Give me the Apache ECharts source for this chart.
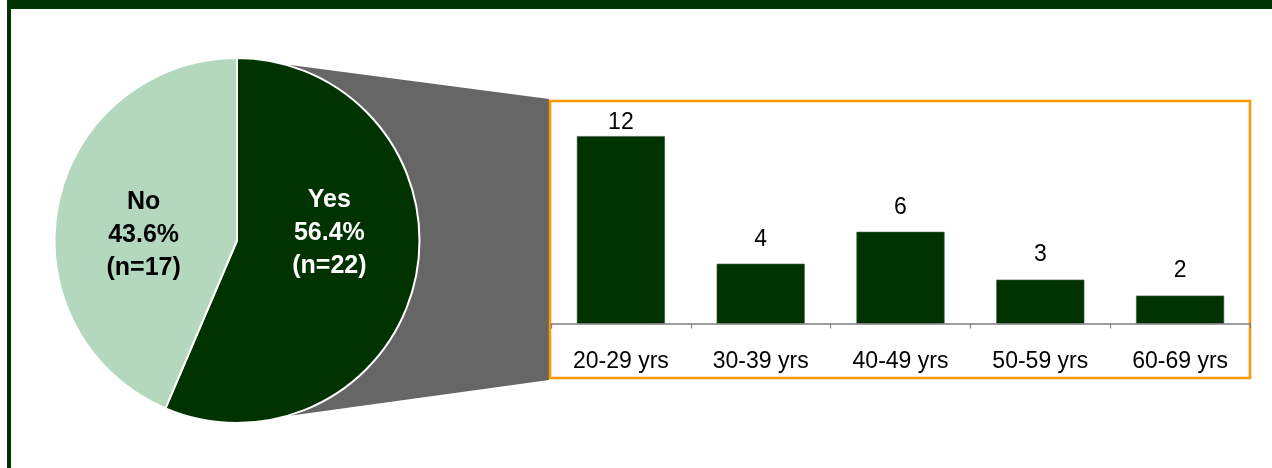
<!DOCTYPE html>
<html>
<head>
<meta charset="utf-8">
<script src="https://cdn.jsdelivr.net/npm/echarts@6/dist/echarts.min.js"></script>
<style>
html,body{margin:0;padding:0;background:#fff;}
#chart{width:1272px;height:468px;}
</style>
</head>
<body>
<div id="chart"></div>
<script>
var pieNames = ['Yes', 'No'];
var pieCounts = [22, 17];
var piePercents = ['56.4%', '43.6%'];
var ageCategories = ['20-29 yrs', '30-39 yrs', '40-49 yrs', '50-59 yrs', '60-69 yrs'];
var ageCounts = [12, 4, 6, 3, 2];

var FONT = 'Arial, "Liberation Sans", sans-serif';
var DARK = '#003300';
var LIGHT = '#B3D8BD';

var chart = echarts.init(document.getElementById('chart'), null, {renderer: 'canvas'});

var pieData = pieNames.map(function (n, i) {
  return {
    name: n,
    value: pieCounts[i],
    itemStyle: {color: i === 0 ? DARK : LIGHT},
    label: {color: i === 0 ? '#ffffff' : '#000000'}
  };
});

var barMax = Math.max.apply(null, ageCounts);
var barData = ageCounts.map(function (v) {
  // the tallest bar's label sits closer to its bar (limited by the box top)
  return v === barMax ? {value: v, label: {distance: 2}} : {value: v};
});

var option = {
  animation: false,
  backgroundColor: '#ffffff',
  graphic: [
    {type: 'rect', z: 0, shape: {x: 7, y: 0, width: 1265, height: 9}, style: {fill: DARK}},
    {type: 'rect', z: 0, shape: {x: 7, y: 0, width: 4, height: 468}, style: {fill: DARK}},
    {type: 'polygon', z: 0, shape: {points: [[237, 58], [549, 99], [549, 380], [237, 423]]}, style: {fill: '#666666'}},
    {type: 'rect', z: 1, shape: {x: 550, y: 101, width: 700, height: 277}, style: {fill: '#ffffff', stroke: '#FF9900', lineWidth: 2.5}}
  ],
  grid: {left: 551, right: 22, top: 104.2, bottom: 144.5, containLabel: false},
  xAxis: {
    type: 'category',
    data: ageCategories,
    z: 5,
    axisLine: {show: true, lineStyle: {color: '#808080', width: 1.5}},
    axisTick: {show: true, length: 5, lineStyle: {color: '#808080', width: 1.2}},
    axisLabel: {color: '#000000', fontSize: 23, fontFamily: FONT, margin: 27}
  },
  yAxis: {
    type: 'value', min: 0.25, max: 14, show: false,
    splitLine: {show: false}
  },
  series: [
    {
      type: 'pie',
      z: 3,
      center: [237, 240.5],
      radius: [0, 182.5],
      startAngle: 90,
      clockwise: true,
      silent: true,
      itemStyle: {borderColor: '#ffffff', borderWidth: 2},
      label: {
        show: true,
        position: 'inside',
        fontFamily: FONT,
        fontWeight: 'bold',
        fontSize: 25,
        lineHeight: 33,
        align: 'center',
        formatter: function (p) {
          return p.name + '\n' + piePercents[p.dataIndex] + '\n(n=' + p.value + ')';
        }
      },
      labelLine: {show: false},
      labelLayout: function (p) {
        return p.dataIndex === 0 ? {dx: 0, dy: -26} : {dx: -1, dy: 13};
      },
      data: pieData
    },
    {
      type: 'bar',
      z: 4,
      data: barData,
      barWidth: '63%',
      itemStyle: {color: DARK, borderColor: '#3d5c3d', borderWidth: 0.6},
      label: {show: true, position: 'top', distance: 13, color: '#000000', fontSize: 23, fontFamily: FONT}
    }
  ]
};
chart.setOption(option);
</script>
</body>
</html>
